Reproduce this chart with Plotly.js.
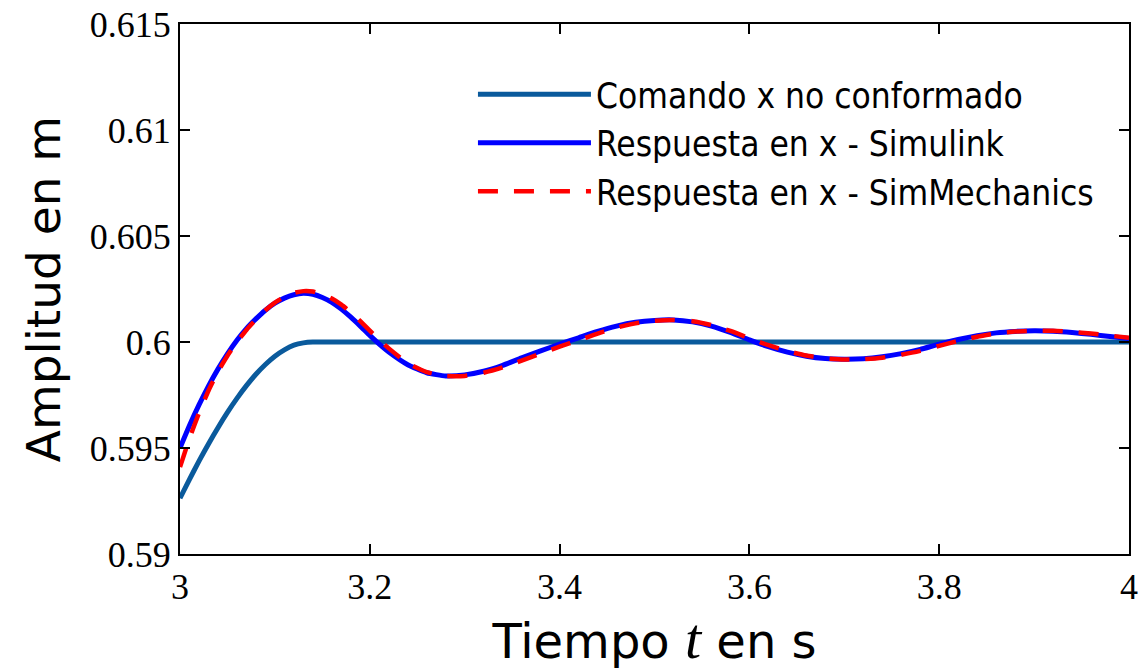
<!DOCTYPE html>
<html>
<head>
<meta charset="utf-8">
<script src="https://cdn.plot.ly/plotly-3.0.1.min.js"></script>
<style>html,body{margin:0;padding:0;background:#fff;}#chart{width:1145px;height:671px;}</style>
</head>
<body>
<div id="chart"></div>
<script>
// Time grid (s)
const tResp = [3.00,3.01,3.02,3.03,3.04,3.05,3.06,3.07,3.08,3.09,3.10,3.11,3.12,3.13,3.14,3.15,3.16,3.17,3.18,3.19,3.20,3.21,3.22,3.24,3.26,3.28,3.30,3.32,3.34,3.36,3.38,3.40,3.42,3.44,3.46,3.48,3.50,3.52,3.54,3.56,3.58,3.60,3.62,3.64,3.66,3.68,3.70,3.72,3.74,3.76,3.78,3.80,3.82,3.84,3.86,3.88,3.90,3.92,3.94,3.96,3.98,4.00];
// Respuesta en x - Simulink (m)
const ySimulink = [0.59500,0.59606,0.59703,0.59792,0.59872,0.59944,0.60008,0.60063,0.60109,0.60150,0.60183,0.60207,0.60223,0.60230,0.60225,0.60210,0.60187,0.60155,0.60117,0.60075,0.60031,0.59990,0.59953,0.59893,0.59855,0.59840,0.59845,0.59862,0.59890,0.59925,0.59958,0.59990,0.60020,0.60050,0.60075,0.60093,0.60102,0.60104,0.60095,0.60075,0.60045,0.60010,0.59978,0.59952,0.59933,0.59922,0.59919,0.59921,0.59930,0.59945,0.59965,0.59990,0.60012,0.60030,0.60043,0.60050,0.60053,0.60051,0.60045,0.60036,0.60026,0.60016];
// Respuesta en x - SimMechanics (m)
const ySimMech = [0.59410,0.59545,0.59665,0.59770,0.59860,0.59935,0.60000,0.60057,0.60106,0.60150,0.60186,0.60213,0.60232,0.60240,0.60238,0.60226,0.60205,0.60176,0.60140,0.60098,0.60054,0.60010,0.59970,0.59900,0.59858,0.59840,0.59840,0.59855,0.59880,0.59912,0.59945,0.59978,0.60008,0.60040,0.60068,0.60088,0.60100,0.60104,0.60098,0.60080,0.60052,0.60018,0.59985,0.59957,0.59936,0.59923,0.59918,0.59919,0.59926,0.59940,0.59958,0.59982,0.60005,0.60025,0.60040,0.60049,0.60053,0.60053,0.60048,0.60040,0.60030,0.60020];
// Comando x no conformado (m)
const tCmd = [3.00,3.01,3.02,3.03,3.04,3.05,3.06,3.07,3.08,3.09,3.10,3.11,3.12,3.13,3.14,3.15,3.20,3.40,3.60,3.80,4.00];
const yCmd = [0.59263,0.59352,0.59438,0.59519,0.59596,0.59668,0.59734,0.59794,0.59848,0.59894,0.59933,0.59963,0.59985,0.59996,0.60000,0.60000,0.60000,0.60000,0.60000,0.60000,0.60000];

const xTicks = [3,3.2,3.4,3.6,3.8,4];
const xTickText = ['3','3.2','3.4','3.6','3.8','4'];
const yTicks = [0.59,0.595,0.6,0.605,0.61,0.615];
const yTickText = ['0.59','0.595','0.6','0.605','0.61','0.615'];
const names = ['Comando x no conformado','Respuesta en x - Simulink','Respuesta en x - SimMechanics'];

const traces = [
  {x:tCmd, y:yCmd, name:names[0], mode:'lines', line:{color:'#0a5a9c', width:5, shape:'spline', smoothing:0.5}},
  {x:tResp, y:ySimulink, name:names[1], mode:'lines', line:{color:'#0000ff', width:5, shape:'spline', smoothing:0.5}},
  {x:tResp, y:ySimMech, name:names[2], mode:'lines', line:{color:'#ff0000', width:4.5, dash:'20px,16px', shape:'spline', smoothing:0.5}}
];

const tickFont = {family:'"Liberation Serif", serif', size:36, color:'#000'};
const layout = {
  width:1145, height:671,
  margin:{l:180, r:16, t:24, b:117},
  paper_bgcolor:'#fff', plot_bgcolor:'#fff',
  showlegend:true,
  legend:{x:0.3087, y:0.9226, xanchor:'left', yanchor:'top', bgcolor:'rgba(0,0,0,0)', borderwidth:0,
          font:{family:'"DejaVu Sans Condensed", "DejaVu Sans", sans-serif', size:35, color:'#000'},
          itemwidth:113, tracegroupgap:0},
  xaxis:{range:[3,4], tickvals:xTicks, ticktext:xTickText, ticks:'inside', ticklen:10, tickwidth:2, tickcolor:'#000',
         showline:true, linecolor:'#000', linewidth:2, mirror:'ticks', showgrid:false, zeroline:false,
         tickfont:tickFont,
         title:{text:'Tiempo <span style="font-family:\'Liberation Serif\';font-style:italic;font-size:58px">t</span> en s',
                font:{family:'"DejaVu Sans", sans-serif', size:48, color:'#000'}, standoff:18}},
  yaxis:{range:[0.59,0.615], tickvals:yTicks, ticktext:yTickText, ticks:'inside', ticklen:10, tickwidth:2, tickcolor:'#000',
         showline:true, linecolor:'#000', linewidth:2, mirror:'ticks', showgrid:false, zeroline:false,
         tickfont:tickFont,
         title:{text:'Amplitud en m', font:{family:'"DejaVu Sans", sans-serif', size:47, color:'#000'}, standoff:14}}
};
Plotly.newPlot('chart', traces, layout, {displayModeBar:false, staticPlot:true});
</script>
</body>
</html>
